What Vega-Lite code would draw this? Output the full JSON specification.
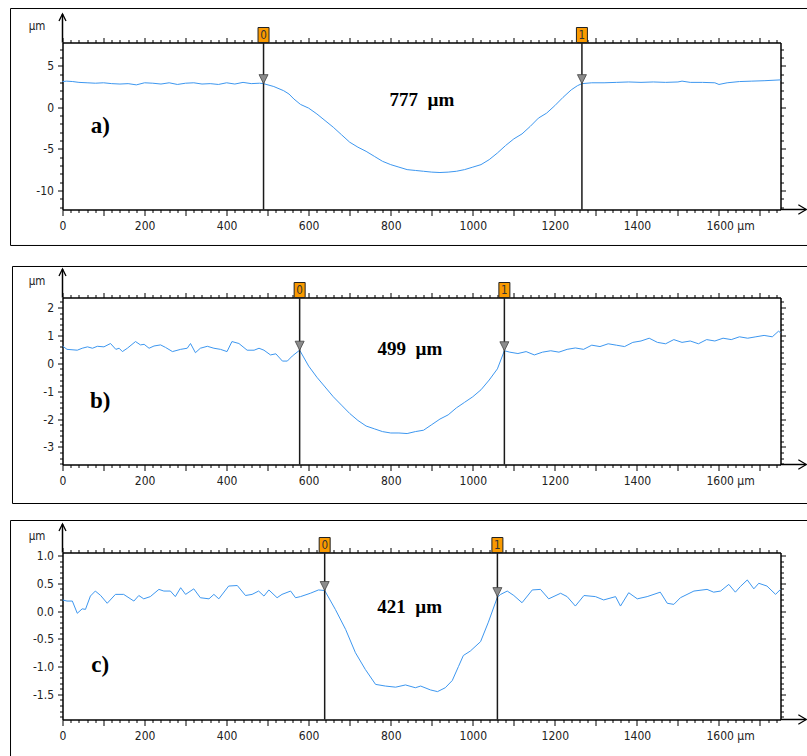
{
"$schema":"https://vega.github.io/schema/vega-lite/v6.json",
"padding":{"left":9.5,"top":7.5,"right":0,"bottom":0},
"autosize":{"type":"pad"},
"background":"#ffffff",
"bounds":"flush",
"spacing":88,
"config":{
 "view":{"stroke":null},
 "axis":{"domainColor":"#000","domainWidth":1.5,"tickColor":"#000","tickWidth":1,"labelFont":"DejaVu Sans Condensed, DejaVu Sans","labelFontSize":12,"labelColor":"#222","grid":false,"labelOverlap":false,"labelFlush":false,"labelBound":false,"titleFont":"DejaVu Sans Condensed, DejaVu Sans","titleFontSize":11.5,"titleFontWeight":"normal","titleColor":"#222"}
},
"datasets":{
 "a":[{"x":0,"v":3.1},{"x":10,"v":3.15},{"x":25,"v":3.1},{"x":40,"v":3.0},{"x":60,"v":2.95},{"x":80,"v":2.9},{"x":100,"v":2.95},{"x":120,"v":2.85},{"x":140,"v":2.8},{"x":160,"v":2.85},{"x":180,"v":2.7},{"x":200,"v":2.95},{"x":220,"v":2.9},{"x":240,"v":2.8},{"x":260,"v":2.95},{"x":280,"v":2.75},{"x":300,"v":2.9},{"x":320,"v":2.95},{"x":340,"v":2.8},{"x":360,"v":2.85},{"x":380,"v":2.75},{"x":400,"v":2.95},{"x":420,"v":2.8},{"x":440,"v":3.0},{"x":460,"v":2.85},{"x":480,"v":2.9},{"x":490,"v":2.85},{"x":515,"v":2.5},{"x":539,"v":2.0},{"x":552,"v":1.6},{"x":564,"v":1.0},{"x":580,"v":0.35},{"x":600,"v":-0.1},{"x":620,"v":-0.8},{"x":640,"v":-1.6},{"x":660,"v":-2.4},{"x":680,"v":-3.3},{"x":700,"v":-4.2},{"x":720,"v":-4.8},{"x":740,"v":-5.3},{"x":760,"v":-5.9},{"x":780,"v":-6.5},{"x":800,"v":-6.9},{"x":820,"v":-7.2},{"x":840,"v":-7.5},{"x":860,"v":-7.6},{"x":880,"v":-7.7},{"x":900,"v":-7.8},{"x":920,"v":-7.85},{"x":940,"v":-7.8},{"x":960,"v":-7.7},{"x":980,"v":-7.5},{"x":1000,"v":-7.2},{"x":1020,"v":-6.9},{"x":1040,"v":-6.3},{"x":1060,"v":-5.5},{"x":1080,"v":-4.6},{"x":1100,"v":-3.8},{"x":1120,"v":-3.2},{"x":1140,"v":-2.3},{"x":1160,"v":-1.3},{"x":1180,"v":-0.7},{"x":1200,"v":0.2},{"x":1220,"v":1.2},{"x":1240,"v":2.1},{"x":1255,"v":2.6},{"x":1266,"v":2.85},{"x":1290,"v":2.95},{"x":1320,"v":2.95},{"x":1350,"v":3.0},{"x":1380,"v":3.05},{"x":1410,"v":3.0},{"x":1440,"v":3.05},{"x":1470,"v":3.0},{"x":1500,"v":3.05},{"x":1510,"v":3.15},{"x":1530,"v":3.0},{"x":1560,"v":3.0},{"x":1590,"v":2.95},{"x":1600,"v":2.75},{"x":1620,"v":2.95},{"x":1650,"v":3.1},{"x":1680,"v":3.15},{"x":1710,"v":3.2},{"x":1750,"v":3.3}],
 "b":[{"x":0,"v":0.62},{"x":11,"v":0.5},{"x":36,"v":0.47},{"x":48,"v":0.54},{"x":61,"v":0.59},{"x":73,"v":0.54},{"x":85,"v":0.61},{"x":101,"v":0.59},{"x":117,"v":0.71},{"x":130,"v":0.5},{"x":138,"v":0.54},{"x":146,"v":0.42},{"x":158,"v":0.54},{"x":178,"v":0.78},{"x":190,"v":0.66},{"x":199,"v":0.68},{"x":211,"v":0.54},{"x":223,"v":0.62},{"x":239,"v":0.66},{"x":251,"v":0.57},{"x":268,"v":0.42},{"x":288,"v":0.5},{"x":304,"v":0.54},{"x":312,"v":0.71},{"x":324,"v":0.38},{"x":336,"v":0.54},{"x":353,"v":0.61},{"x":369,"v":0.54},{"x":385,"v":0.5},{"x":401,"v":0.42},{"x":413,"v":0.78},{"x":430,"v":0.71},{"x":450,"v":0.47},{"x":467,"v":0.47},{"x":479,"v":0.54},{"x":491,"v":0.47},{"x":507,"v":0.3},{"x":520,"v":0.34},{"x":536,"v":0.08},{"x":548,"v":0.08},{"x":560,"v":0.26},{"x":578,"v":0.47},{"x":600,"v":-0.1},{"x":620,"v":-0.5},{"x":640,"v":-0.85},{"x":660,"v":-1.2},{"x":680,"v":-1.5},{"x":700,"v":-1.8},{"x":720,"v":-2.05},{"x":740,"v":-2.25},{"x":760,"v":-2.35},{"x":780,"v":-2.45},{"x":800,"v":-2.5},{"x":820,"v":-2.5},{"x":840,"v":-2.52},{"x":860,"v":-2.45},{"x":880,"v":-2.4},{"x":900,"v":-2.2},{"x":920,"v":-2.0},{"x":940,"v":-1.85},{"x":960,"v":-1.6},{"x":980,"v":-1.4},{"x":1000,"v":-1.2},{"x":1020,"v":-0.95},{"x":1040,"v":-0.6},{"x":1060,"v":-0.2},{"x":1077,"v":0.45},{"x":1090,"v":0.4},{"x":1110,"v":0.35},{"x":1130,"v":0.42},{"x":1150,"v":0.3},{"x":1170,"v":0.4},{"x":1190,"v":0.45},{"x":1210,"v":0.4},{"x":1230,"v":0.5},{"x":1250,"v":0.55},{"x":1270,"v":0.5},{"x":1290,"v":0.65},{"x":1310,"v":0.6},{"x":1330,"v":0.7},{"x":1350,"v":0.65},{"x":1370,"v":0.6},{"x":1390,"v":0.75},{"x":1410,"v":0.8},{"x":1430,"v":0.9},{"x":1450,"v":0.75},{"x":1470,"v":0.7},{"x":1490,"v":0.85},{"x":1510,"v":0.75},{"x":1530,"v":0.8},{"x":1550,"v":0.7},{"x":1570,"v":0.85},{"x":1590,"v":0.8},{"x":1610,"v":0.9},{"x":1630,"v":0.85},{"x":1650,"v":0.95},{"x":1670,"v":0.9},{"x":1690,"v":0.95},{"x":1710,"v":1.0},{"x":1730,"v":0.95},{"x":1745,"v":1.15},{"x":1750,"v":1.1}],
 "c":[{"x":0,"v":0.2},{"x":11,"v":0.18},{"x":24,"v":0.18},{"x":36,"v":-0.04},{"x":48,"v":0.04},{"x":56,"v":0.03},{"x":68,"v":0.27},{"x":80,"v":0.36},{"x":93,"v":0.28},{"x":109,"v":0.14},{"x":129,"v":0.3},{"x":149,"v":0.3},{"x":174,"v":0.18},{"x":186,"v":0.28},{"x":198,"v":0.22},{"x":214,"v":0.26},{"x":235,"v":0.39},{"x":247,"v":0.36},{"x":263,"v":0.36},{"x":275,"v":0.26},{"x":288,"v":0.42},{"x":300,"v":0.3},{"x":320,"v":0.4},{"x":336,"v":0.24},{"x":357,"v":0.22},{"x":369,"v":0.3},{"x":381,"v":0.22},{"x":405,"v":0.45},{"x":426,"v":0.46},{"x":446,"v":0.28},{"x":462,"v":0.3},{"x":478,"v":0.36},{"x":491,"v":0.27},{"x":503,"v":0.38},{"x":523,"v":0.24},{"x":535,"v":0.3},{"x":556,"v":0.36},{"x":568,"v":0.24},{"x":580,"v":0.26},{"x":604,"v":0.32},{"x":624,"v":0.38},{"x":639,"v":0.37},{"x":665,"v":0.03},{"x":690,"v":-0.33},{"x":714,"v":-0.75},{"x":738,"v":-1.05},{"x":763,"v":-1.32},{"x":787,"v":-1.35},{"x":812,"v":-1.37},{"x":836,"v":-1.33},{"x":860,"v":-1.38},{"x":873,"v":-1.35},{"x":897,"v":-1.42},{"x":914,"v":-1.45},{"x":933,"v":-1.38},{"x":950,"v":-1.25},{"x":965,"v":-1.0},{"x":977,"v":-0.8},{"x":994,"v":-0.72},{"x":1019,"v":-0.55},{"x":1038,"v":-0.2},{"x":1060,"v":0.25},{"x":1068,"v":0.3},{"x":1084,"v":0.36},{"x":1100,"v":0.28},{"x":1120,"v":0.15},{"x":1145,"v":0.38},{"x":1165,"v":0.39},{"x":1185,"v":0.22},{"x":1214,"v":0.32},{"x":1230,"v":0.26},{"x":1250,"v":0.09},{"x":1271,"v":0.28},{"x":1299,"v":0.26},{"x":1319,"v":0.2},{"x":1348,"v":0.26},{"x":1360,"v":0.09},{"x":1380,"v":0.33},{"x":1401,"v":0.22},{"x":1425,"v":0.26},{"x":1457,"v":0.34},{"x":1474,"v":0.14},{"x":1490,"v":0.12},{"x":1506,"v":0.24},{"x":1539,"v":0.36},{"x":1571,"v":0.39},{"x":1587,"v":0.34},{"x":1604,"v":0.36},{"x":1624,"v":0.48},{"x":1640,"v":0.34},{"x":1652,"v":0.44},{"x":1669,"v":0.56},{"x":1685,"v":0.4},{"x":1697,"v":0.5},{"x":1717,"v":0.45},{"x":1738,"v":0.3},{"x":1750,"v":0.39}],
 "markers":[{"panel":"a","id":"0","x":490,"v":2.85},{"panel":"a","id":"1","x":1266,"v":2.85},{"panel":"b","id":"0","x":578,"v":0.47},{"panel":"b","id":"1","x":1077,"v":0.45},{"panel":"c","id":"0","x":639,"v":0.37},{"panel":"c","id":"1","x":1060,"v":0.26}]
},
"vconcat":[
{
 "width":718,"height":167,
 "resolve":{"axis":{"x":"independent","y":"independent"}},
 "layer":[
  {"data":{"values":[{}]},"mark":{"type":"rect","filled":false,"stroke":"#000","strokeWidth":1},
   "encoding":{"x":{"datum":-126.7,"type":"quantitative","scale":{"domain":[0,1750],"nice":false,"zero":false},"axis":null},"x2":{"datum":1830},"y":{"datum":11.89,"type":"quantitative","scale":{"domain":[-12.3,7.8],"nice":false,"zero":false},"axis":null},"y2":{"datum":-16.63}}},
  {"data":{"name":"a"},"mark":{"type":"line","color":"#3d97f0","strokeWidth":1},
   "encoding":{
    "x":{"field":"x","type":"quantitative","scale":{"domain":[0,1750],"nice":false,"zero":false},
     "axis":{"orient":"bottom","values":[0,20,40,60,80,100,120,140,160,180,200,220,240,260,280,300,320,340,360,380,400,420,440,460,480,500,520,540,560,580,600,620,640,660,680,700,720,740,760,780,800,820,840,860,880,900,920,940,960,980,1000,1020,1040,1060,1080,1100,1120,1140,1160,1180,1200,1220,1240,1260,1280,1300,1320,1340,1360,1380,1400,1420,1440,1460,1480,1500,1520,1540,1560,1580,1600,1620,1640,1660,1680,1700,1720,1740],"title":null,"labelExpr":"datum.value % 200 === 0 && datum.value <= 1600 ? (datum.value === 1600 ? '1600 µm' : '' + datum.value) : ''","tickSize":{"condition":{"test":"datum.value % 100 === 0","value":6},"value":3},"labelAlign":{"condition":{"test":"datum.value === 1600","value":"left"},"value":"center"},"labelOffset":{"condition":{"test":"datum.value === 1600","value":-13},"value":0},"labelPadding":5}},
    "y":{"field":"v","type":"quantitative","scale":{"domain":[-12.3,7.8],"nice":false,"zero":false},
     "axis":{"orient":"left","values":[-12,-11,-10,-9,-8,-7,-6,-5,-4,-3,-2,-1,0,1,2,3,4,5,6,7],"title":"µm","titleAngle":0,"titleX":-26,"titleY":-16,"titleAlign":"center","titleBaseline":"middle","labelExpr":"datum.value % 5 === 0 ? '' + datum.value : ''","tickSize":{"condition":{"test":"datum.value % 5 === 0","value":5},"value":3},"labelPadding":4}}}},
  {"data":{"name":"markers"},"transform":[{"filter":"datum.panel === 'a'"}],"mark":{"type":"rule","color":"#1a1a1a","strokeWidth":1.5},
   "encoding":{
    "x":{"field":"x","type":"quantitative","axis":{"orient":"top","values":[0,20,40,60,80,100,120,140,160,180,200,220,240,260,280,300,320,340,360,380,400,420,440,460,480,500,520,540,560,580,600,620,640,660,680,700,720,740,760,780,800,820,840,860,880,900,920,940,960,980,1000,1020,1040,1060,1080,1100,1120,1140,1160,1180,1200,1220,1240,1260,1280,1300,1320,1340,1360,1380,1400,1420,1440,1460,1480,1500,1520,1540,1560,1580,1600,1620,1640,1660,1680,1700,1720,1740],"title":null,"labels":false,"tickSize":{"condition":{"test":"datum.value % 100 === 0","value":5},"value":3}}},
    "y":{"datum":7.8,"type":"quantitative","axis":{"orient":"right","values":[-12,-11,-10,-9,-8,-7,-6,-5,-4,-3,-2,-1,0,1,2,3,4,5,6,7],"title":null,"labels":false,"tickSize":{"condition":{"test":"datum.value % 5 === 0","value":5},"value":3}}},
    "y2":{"datum":-12.3}}},
  {"data":{"name":"markers"},"transform":[{"filter":"datum.panel === 'a'"}],"mark":{"type":"point","shape":"M-0.733,-1L0.733,-1L0.733,1L-0.733,1Z","size":225,"filled":true,"fill":"#fa9a00","stroke":"#222","strokeWidth":1,"opacity":1,"yOffset":-7.5},
   "encoding":{"x":{"field":"x","type":"quantitative","axis":null},"y":{"datum":7.8,"type":"quantitative","axis":null}}},
  {"data":{"name":"markers"},"transform":[{"filter":"datum.panel === 'a'"}],"mark":{"type":"text","font":"DejaVu Sans Condensed, DejaVu Sans","fontSize":11.5,"color":"#333","align":"center","baseline":"middle","yOffset":-7},
   "encoding":{"x":{"field":"x","type":"quantitative","axis":null},"y":{"datum":7.8,"type":"quantitative","axis":null},"text":{"field":"id"}}},
  {"data":{"name":"markers"},"transform":[{"filter":"datum.panel === 'a'"}],"mark":{"type":"point","shape":"M-1,-2L1,-2L0,0Z","size":81,"filled":true,"fill":"#8c8c8c","stroke":"#444","strokeWidth":0.8,"opacity":1},
   "encoding":{"x":{"field":"x","type":"quantitative","axis":null},"y":{"field":"v","type":"quantitative","axis":null}}},
  {"data":{"values":[{}]},"mark":{"type":"rule","color":"#000","strokeWidth":1.5},
   "encoding":{"x":{"datum":0,"type":"quantitative","axis":null},"y":{"datum":7.8,"type":"quantitative","axis":null},"y2":{"datum":11.23}}},
  {"data":{"values":[{}]},"mark":{"type":"point","shape":"M-0.5,1L0,0L0.5,1","size":196,"filled":false,"stroke":"#000","strokeWidth":1.3,"opacity":1},
   "encoding":{"x":{"datum":0,"type":"quantitative","axis":null},"y":{"datum":11.23,"type":"quantitative","axis":null}}},
  {"data":{"values":[{}]},"mark":{"type":"rule","color":"#000","strokeWidth":1.5},
   "encoding":{"x":{"datum":1750,"type":"quantitative","axis":null},"x2":{"datum":1813},"y":{"datum":-12.3,"type":"quantitative","axis":null}}},
  {"data":{"values":[{}]},"mark":{"type":"point","shape":"M-1,-0.6L0,0L-1,0.6","size":256,"filled":false,"stroke":"#000","strokeWidth":1.3,"opacity":1},
   "encoding":{"x":{"datum":1813,"type":"quantitative","axis":null},"y":{"datum":-12.3,"type":"quantitative","axis":null}}},
  {"data":{"values":[{}]},"mark":{"type":"text","text":"a)","font":"Liberation Serif","fontWeight":"bold","fontSize":23,"align":"center","baseline":"middle","color":"#000"},
   "encoding":{"x":{"datum":92,"type":"quantitative","axis":null},"y":{"datum":-2.2,"type":"quantitative","axis":null}}},
  {"data":{"values":[{}]},"mark":{"type":"text","text":"777\u00a0\u00a0µm","font":"Liberation Serif","fontWeight":"bold","fontSize":19,"align":"center","baseline":"alphabetic","color":"#000"},
   "encoding":{"x":{"datum":876,"type":"quantitative","axis":null},"y":{"datum":0.133,"type":"quantitative","axis":null}}}
 ]
},
{
 "width":718,"height":167,
 "resolve":{"axis":{"x":"independent","y":"independent"}},
 "layer":[
  {"data":{"values":[{}]},"mark":{"type":"rect","filled":false,"stroke":"#000","strokeWidth":1},
   "encoding":{"x":{"datum":-121.9,"type":"quantitative","scale":{"domain":[0,1750],"nice":false,"zero":false},"axis":null},"x2":{"datum":1830},"y":{"datum":3.472,"type":"quantitative","scale":{"domain":[-3.63,2.36],"nice":false,"zero":false},"axis":null},"y2":{"datum":-5.029}}},
  {"data":{"name":"b"},"mark":{"type":"line","color":"#3d97f0","strokeWidth":1},
   "encoding":{
    "x":{"field":"x","type":"quantitative","scale":{"domain":[0,1750],"nice":false,"zero":false},
     "axis":{"orient":"bottom","values":[0,20,40,60,80,100,120,140,160,180,200,220,240,260,280,300,320,340,360,380,400,420,440,460,480,500,520,540,560,580,600,620,640,660,680,700,720,740,760,780,800,820,840,860,880,900,920,940,960,980,1000,1020,1040,1060,1080,1100,1120,1140,1160,1180,1200,1220,1240,1260,1280,1300,1320,1340,1360,1380,1400,1420,1440,1460,1480,1500,1520,1540,1560,1580,1600,1620,1640,1660,1680,1700,1720,1740],"title":null,"labelExpr":"datum.value % 200 === 0 && datum.value <= 1600 ? (datum.value === 1600 ? '1600 µm' : '' + datum.value) : ''","tickSize":{"condition":{"test":"datum.value % 100 === 0","value":6},"value":3},"labelAlign":{"condition":{"test":"datum.value === 1600","value":"left"},"value":"center"},"labelOffset":{"condition":{"test":"datum.value === 1600","value":-13},"value":0},"labelPadding":5}},
    "y":{"field":"v","type":"quantitative","scale":{"domain":[-3.63,2.36],"nice":false,"zero":false},
     "axis":{"orient":"left","values":[-3.6,-3.4,-3.2,-3,-2.8,-2.6,-2.4,-2.2,-2,-1.8,-1.6,-1.4,-1.2,-1,-0.8,-0.6,-0.4,-0.2,0,0.2,0.4,0.6,0.8,1,1.2,1.4,1.6,1.8,2,2.2],"title":"µm","titleAngle":0,"titleX":-26,"titleY":-16,"titleAlign":"center","titleBaseline":"middle","labelExpr":"abs(datum.value - round(datum.value)) < 0.001 ? '' + round(datum.value) : ''","tickSize":{"condition":{"test":"abs(datum.value - round(datum.value)) < 0.001","value":5},"value":3},"labelPadding":4}}}},
  {"data":{"name":"markers"},"transform":[{"filter":"datum.panel === 'b'"}],"mark":{"type":"rule","color":"#1a1a1a","strokeWidth":1.5},
   "encoding":{
    "x":{"field":"x","type":"quantitative","axis":{"orient":"top","values":[0,20,40,60,80,100,120,140,160,180,200,220,240,260,280,300,320,340,360,380,400,420,440,460,480,500,520,540,560,580,600,620,640,660,680,700,720,740,760,780,800,820,840,860,880,900,920,940,960,980,1000,1020,1040,1060,1080,1100,1120,1140,1160,1180,1200,1220,1240,1260,1280,1300,1320,1340,1360,1380,1400,1420,1440,1460,1480,1500,1520,1540,1560,1580,1600,1620,1640,1660,1680,1700,1720,1740],"title":null,"labels":false,"tickSize":{"condition":{"test":"datum.value % 100 === 0","value":5},"value":3}}},
    "y":{"datum":2.36,"type":"quantitative","axis":{"orient":"right","values":[-3.6,-3.4,-3.2,-3,-2.8,-2.6,-2.4,-2.2,-2,-1.8,-1.6,-1.4,-1.2,-1,-0.8,-0.6,-0.4,-0.2,0,0.2,0.4,0.6,0.8,1,1.2,1.4,1.6,1.8,2,2.2],"title":null,"labels":false,"tickSize":{"condition":{"test":"abs(datum.value - round(datum.value)) < 0.001","value":5},"value":3}}},
    "y2":{"datum":-3.63}}},
  {"data":{"name":"markers"},"transform":[{"filter":"datum.panel === 'b'"}],"mark":{"type":"point","shape":"M-0.733,-1L0.733,-1L0.733,1L-0.733,1Z","size":225,"filled":true,"fill":"#fa9a00","stroke":"#222","strokeWidth":1,"opacity":1,"yOffset":-7.5},
   "encoding":{"x":{"field":"x","type":"quantitative","axis":null},"y":{"datum":2.36,"type":"quantitative","axis":null}}},
  {"data":{"name":"markers"},"transform":[{"filter":"datum.panel === 'b'"}],"mark":{"type":"text","font":"DejaVu Sans Condensed, DejaVu Sans","fontSize":11.5,"color":"#333","align":"center","baseline":"middle","yOffset":-7},
   "encoding":{"x":{"field":"x","type":"quantitative","axis":null},"y":{"datum":2.36,"type":"quantitative","axis":null},"text":{"field":"id"}}},
  {"data":{"name":"markers"},"transform":[{"filter":"datum.panel === 'b'"}],"mark":{"type":"point","shape":"M-1,-2L1,-2L0,0Z","size":81,"filled":true,"fill":"#8c8c8c","stroke":"#444","strokeWidth":0.8,"opacity":1},
   "encoding":{"x":{"field":"x","type":"quantitative","axis":null},"y":{"field":"v","type":"quantitative","axis":null}}},
  {"data":{"values":[{}]},"mark":{"type":"rule","color":"#000","strokeWidth":1.5},
   "encoding":{"x":{"datum":0,"type":"quantitative","axis":null},"y":{"datum":2.36,"type":"quantitative","axis":null},"y2":{"datum":3.382}}},
  {"data":{"values":[{}]},"mark":{"type":"point","shape":"M-0.5,1L0,0L0.5,1","size":196,"filled":false,"stroke":"#000","strokeWidth":1.3,"opacity":1},
   "encoding":{"x":{"datum":0,"type":"quantitative","axis":null},"y":{"datum":3.382,"type":"quantitative","axis":null}}},
  {"data":{"values":[{}]},"mark":{"type":"rule","color":"#000","strokeWidth":1.5},
   "encoding":{"x":{"datum":1750,"type":"quantitative","axis":null},"x2":{"datum":1813},"y":{"datum":-3.63,"type":"quantitative","axis":null}}},
  {"data":{"values":[{}]},"mark":{"type":"point","shape":"M-1,-0.6L0,0L-1,0.6","size":256,"filled":false,"stroke":"#000","strokeWidth":1.3,"opacity":1},
   "encoding":{"x":{"datum":1813,"type":"quantitative","axis":null},"y":{"datum":-3.63,"type":"quantitative","axis":null}}},
  {"data":{"values":[{}]},"mark":{"type":"text","text":"b)","font":"Liberation Serif","fontWeight":"bold","fontSize":23,"align":"center","baseline":"middle","color":"#000"},
   "encoding":{"x":{"datum":92,"type":"quantitative","axis":null},"y":{"datum":-1.37,"type":"quantitative","axis":null}}},
  {"data":{"values":[{}]},"mark":{"type":"text","text":"499\u00a0\u00a0µm","font":"Liberation Serif","fontWeight":"bold","fontSize":19,"align":"center","baseline":"alphabetic","color":"#000"},
   "encoding":{"x":{"datum":847,"type":"quantitative","axis":null},"y":{"datum":0.28,"type":"quantitative","axis":null}}}
 ]
},
{
 "width":718,"height":167,
 "resolve":{"axis":{"x":"independent","y":"independent"}},
 "layer":[
  {"data":{"values":[{}]},"mark":{"type":"rect","filled":false,"stroke":"#000","strokeWidth":1},
   "encoding":{"x":{"datum":-126.7,"type":"quantitative","scale":{"domain":[0,1750],"nice":false,"zero":false},"axis":null},"x2":{"datum":1830},"y":{"datum":1.63,"type":"quantitative","scale":{"domain":[-1.952,1.054],"nice":false,"zero":false},"axis":null},"y2":{"datum":-2.96}}},
  {"data":{"name":"c"},"mark":{"type":"line","color":"#3d97f0","strokeWidth":1},
   "encoding":{
    "x":{"field":"x","type":"quantitative","scale":{"domain":[0,1750],"nice":false,"zero":false},
     "axis":{"orient":"bottom","values":[0,20,40,60,80,100,120,140,160,180,200,220,240,260,280,300,320,340,360,380,400,420,440,460,480,500,520,540,560,580,600,620,640,660,680,700,720,740,760,780,800,820,840,860,880,900,920,940,960,980,1000,1020,1040,1060,1080,1100,1120,1140,1160,1180,1200,1220,1240,1260,1280,1300,1320,1340,1360,1380,1400,1420,1440,1460,1480,1500,1520,1540,1560,1580,1600,1620,1640,1660,1680,1700,1720,1740],"title":null,"labelExpr":"datum.value % 200 === 0 && datum.value <= 1600 ? (datum.value === 1600 ? '1600 µm' : '' + datum.value) : ''","tickSize":{"condition":{"test":"datum.value % 100 === 0","value":6},"value":3},"labelAlign":{"condition":{"test":"datum.value === 1600","value":"left"},"value":"center"},"labelOffset":{"condition":{"test":"datum.value === 1600","value":-13},"value":0},"labelPadding":5}},
    "y":{"field":"v","type":"quantitative","scale":{"domain":[-1.952,1.054],"nice":false,"zero":false},
     "axis":{"orient":"left","values":[-1.9,-1.8,-1.7,-1.6,-1.5,-1.4,-1.3,-1.2,-1.1,-1,-0.9,-0.8,-0.7,-0.6,-0.5,-0.4,-0.3,-0.2,-0.1,0,0.1,0.2,0.3,0.4,0.5,0.6,0.7,0.8,0.9,1],"title":"µm","titleAngle":0,"titleX":-26,"titleY":-16,"titleAlign":"center","titleBaseline":"middle","labelExpr":"abs(datum.value*2 - round(datum.value*2)) < 0.001 ? replace(format(datum.value, '.1f'), '\u2212', '-') : ''","tickSize":{"condition":{"test":"abs(datum.value*2 - round(datum.value*2)) < 0.001","value":5},"value":3},"labelPadding":4}}}},
  {"data":{"name":"markers"},"transform":[{"filter":"datum.panel === 'c'"}],"mark":{"type":"rule","color":"#1a1a1a","strokeWidth":1.5},
   "encoding":{
    "x":{"field":"x","type":"quantitative","axis":{"orient":"top","values":[0,20,40,60,80,100,120,140,160,180,200,220,240,260,280,300,320,340,360,380,400,420,440,460,480,500,520,540,560,580,600,620,640,660,680,700,720,740,760,780,800,820,840,860,880,900,920,940,960,980,1000,1020,1040,1060,1080,1100,1120,1140,1160,1180,1200,1220,1240,1260,1280,1300,1320,1340,1360,1380,1400,1420,1440,1460,1480,1500,1520,1540,1560,1580,1600,1620,1640,1660,1680,1700,1720,1740],"title":null,"labels":false,"tickSize":{"condition":{"test":"datum.value % 100 === 0","value":5},"value":3}}},
    "y":{"datum":1.054,"type":"quantitative","axis":{"orient":"right","values":[-1.9,-1.8,-1.7,-1.6,-1.5,-1.4,-1.3,-1.2,-1.1,-1,-0.9,-0.8,-0.7,-0.6,-0.5,-0.4,-0.3,-0.2,-0.1,0,0.1,0.2,0.3,0.4,0.5,0.6,0.7,0.8,0.9,1],"title":null,"labels":false,"tickSize":{"condition":{"test":"abs(datum.value*2 - round(datum.value*2)) < 0.001","value":5},"value":3}}},
    "y2":{"datum":-1.952}}},
  {"data":{"name":"markers"},"transform":[{"filter":"datum.panel === 'c'"}],"mark":{"type":"point","shape":"M-0.733,-1L0.733,-1L0.733,1L-0.733,1Z","size":225,"filled":true,"fill":"#fa9a00","stroke":"#222","strokeWidth":1,"opacity":1,"yOffset":-7.5},
   "encoding":{"x":{"field":"x","type":"quantitative","axis":null},"y":{"datum":1.054,"type":"quantitative","axis":null}}},
  {"data":{"name":"markers"},"transform":[{"filter":"datum.panel === 'c'"}],"mark":{"type":"text","font":"DejaVu Sans Condensed, DejaVu Sans","fontSize":11.5,"color":"#333","align":"center","baseline":"middle","yOffset":-7},
   "encoding":{"x":{"field":"x","type":"quantitative","axis":null},"y":{"datum":1.054,"type":"quantitative","axis":null},"text":{"field":"id"}}},
  {"data":{"name":"markers"},"transform":[{"filter":"datum.panel === 'c'"}],"mark":{"type":"point","shape":"M-1,-2L1,-2L0,0Z","size":81,"filled":true,"fill":"#8c8c8c","stroke":"#444","strokeWidth":0.8,"opacity":1},
   "encoding":{"x":{"field":"x","type":"quantitative","axis":null},"y":{"field":"v","type":"quantitative","axis":null}}},
  {"data":{"values":[{}]},"mark":{"type":"rule","color":"#000","strokeWidth":1.5},
   "encoding":{"x":{"datum":0,"type":"quantitative","axis":null},"y":{"datum":1.054,"type":"quantitative","axis":null},"y2":{"datum":1.567}}},
  {"data":{"values":[{}]},"mark":{"type":"point","shape":"M-0.5,1L0,0L0.5,1","size":196,"filled":false,"stroke":"#000","strokeWidth":1.3,"opacity":1},
   "encoding":{"x":{"datum":0,"type":"quantitative","axis":null},"y":{"datum":1.567,"type":"quantitative","axis":null}}},
  {"data":{"values":[{}]},"mark":{"type":"rule","color":"#000","strokeWidth":1.5},
   "encoding":{"x":{"datum":1750,"type":"quantitative","axis":null},"x2":{"datum":1813},"y":{"datum":-1.952,"type":"quantitative","axis":null}}},
  {"data":{"values":[{}]},"mark":{"type":"point","shape":"M-1,-0.6L0,0L-1,0.6","size":256,"filled":false,"stroke":"#000","strokeWidth":1.3,"opacity":1},
   "encoding":{"x":{"datum":1813,"type":"quantitative","axis":null},"y":{"datum":-1.952,"type":"quantitative","axis":null}}},
  {"data":{"values":[{}]},"mark":{"type":"text","text":"c)","font":"Liberation Serif","fontWeight":"bold","fontSize":23,"align":"center","baseline":"middle","color":"#000"},
   "encoding":{"x":{"datum":92,"type":"quantitative","axis":null},"y":{"datum":-0.962,"type":"quantitative","axis":null}}},
  {"data":{"values":[{}]},"mark":{"type":"text","text":"421\u00a0\u00a0µm","font":"Liberation Serif","fontWeight":"bold","fontSize":19,"align":"center","baseline":"alphabetic","color":"#000"},
   "encoding":{"x":{"datum":846,"type":"quantitative","axis":null},"y":{"datum":-0.026,"type":"quantitative","axis":null}}}
 ]
}
]
}
